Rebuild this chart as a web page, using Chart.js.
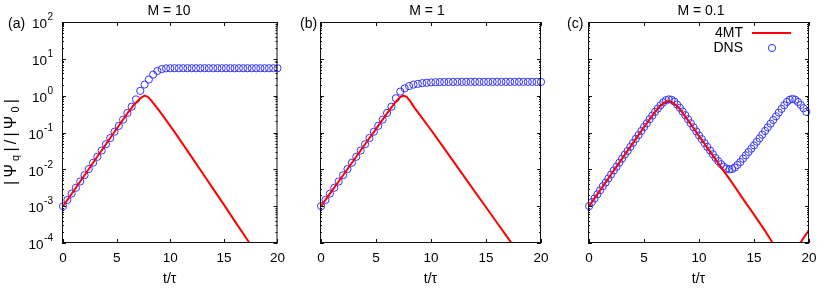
<!DOCTYPE html>
<html>
<head>
<meta charset="utf-8">
<script src="https://cdn.jsdelivr.net/npm/chart.js@4.4.1/dist/chart.umd.min.js"></script>
<style>
  html, body { margin: 0; padding: 0; background: #fff; }
  #wrap { position: relative; width: 830px; height: 292px; overflow: hidden; }
  canvas { position: absolute; top: 0; }
</style>
</head>
<body>
<div id="wrap">
  <canvas id="cA" width="292" height="292" style="left:0px"></canvas>
  <canvas id="cB" width="268" height="292" style="left:292px"></canvas>
  <canvas id="cC" width="270" height="292" style="left:560px"></canvas>
</div>
<script>
// ---------------- data ----------------
const panelTitles = ['M = 10', 'M = 1', 'M = 0.1'];
const panelTags = ['(a)', '(b)', '(c)'];
const xTicks = [0, 5, 10, 15, 20];
const yTicks = [1e-4, 1e-3, 1e-2, 1e-1, 1e0, 1e1, 1e2];
const yTickExps = ['-4', '-3', '-2', '-1', '0', '1', '2'];

// 4MT (red line) samples
const tRedA = [0,1,2,3,4,5,6,6.5,7,7.3,7.6,7.9,8.2,8.6,9,10,11,12,13,14,15,16,17,17.5];
const redA  = [1.00e-3,2.63e-3,6.92e-3,1.82e-2,4.79e-2,0.126,0.331,0.513,0.741,0.891,1.00,0.933,0.759,0.537,0.380,0.151,0.0575,0.0214,7.94e-3,2.95e-3,1.10e-3,3.98e-4,1.48e-4,8.9e-5];

const tRedB = [0,1,2,3,4,5,6,6.5,6.9,7.2,7.5,7.8,8.1,8.5,9,10,11,12,13,14,15,16,17,17.5];
const redB  = [1.00e-3,2.63e-3,6.92e-3,1.82e-2,4.79e-2,0.126,0.331,0.525,0.741,0.912,1.00,0.912,0.708,0.468,0.295,0.117,0.0447,0.0170,6.46e-3,2.45e-3,9.33e-4,3.55e-4,1.35e-4,8.3e-5];

const tRedC = [0,1,2,3,4,5,6,6.5,7,7.3,7.6,8,8.5,9,10,11,12,13,14,15,16,16.7,17.3,17.8,18.3,18.8,19.2,20];
const redC  = [1.00e-3,2.69e-3,7.24e-3,1.95e-2,5.25e-2,0.141,0.363,0.537,0.692,0.708,0.646,0.525,0.347,0.214,0.0794,0.0302,0.0115,4.37e-3,1.58e-3,5.89e-4,2.14e-4,1.0e-4,5.0e-5,2.0e-5,1.0e-5,2.8e-5,1.0e-4,2.24e-4];

// DNS (blue circles) samples
const tDnsAB = [0,0.4,0.8,1.2,1.6,2,2.4,2.8,3.2,3.6,4,4.4,4.8,5.2,5.6,6,6.4,6.8,7.2,7.6,8,8.4,8.8,9.2,9.6,10,10.4,10.8,11.2,11.6,12,12.4,12.8,13.2,13.6,14,14.4,14.8,15.2,15.6,16,16.4,16.8,17.2,17.6,18,18.4,18.8,19.2,19.6,20];
const dnsA = [1.00e-3,1.48e-3,2.19e-3,3.16e-3,4.68e-3,6.92e-3,1.02e-2,1.51e-2,2.19e-2,3.24e-2,4.79e-2,7.08e-2,0.105,0.151,0.224,0.339,0.501,0.794,1.35,2.00,2.75,3.72,4.68,5.25,5.50,
  5.55,5.56,5.56,5.57,5.56,5.56,5.55,5.56,5.56,5.56,5.55,5.56,5.56,5.56,5.56,5.55,5.56,5.56,5.56,5.55,5.56,5.56,5.55,5.56,5.56,5.55];
const dnsB = [1.00e-3,1.48e-3,2.19e-3,3.16e-3,4.68e-3,6.92e-3,1.02e-2,1.51e-2,2.19e-2,3.24e-2,4.79e-2,7.08e-2,0.105,0.151,0.224,0.339,0.501,
  0.851,1.29,1.58,1.82,2.00,2.09,2.19,2.24,2.29,
  2.32,2.34,2.35,2.36,2.36,2.37,2.37,2.37,2.37,2.37,2.37,2.37,2.37,2.37,2.37,2.37,2.37,2.37,2.37,2.37,2.37,2.37,2.37,2.37,2.37];

const tDnsC = [0,0.25,0.5,0.75,1,1.25,1.5,1.75,2,2.25,2.5,2.75,3,3.25,3.5,3.75,4,4.25,4.5,4.75,5,5.25,5.5,5.75,6,6.25,6.5,6.75,7,7.25,7.5,7.75,8,8.25,8.5,8.75,9,9.25,9.5,9.75,10,10.25,10.5,10.75,11,11.25,11.5,11.75,12,12.25,12.5,12.75,13,13.25,13.5,13.75,14,14.25,14.5,14.75,15,15.25,15.5,15.75,16,16.25,16.5,16.75,17,17.25,17.5,17.75,18,18.25,18.5,18.75,19,19.25,19.5,19.75];
const dnsC = [1.00e-3,1.29e-3,1.62e-3,2.09e-3,2.69e-3,3.47e-3,4.37e-3,5.62e-3,7.24e-3,9.33e-3,
  1.18e-2,1.51e-2,1.95e-2,2.51e-2,3.16e-2,4.07e-2,5.25e-2,6.76e-2,8.51e-2,0.110,
  0.141,0.178,0.229,0.288,0.363,0.447,0.550,0.661,0.759,0.794,
  0.776,0.692,0.575,0.468,0.372,0.295,0.229,0.178,0.138,0.107,
  8.32e-2,6.61e-2,5.13e-2,4.07e-2,3.24e-2,2.57e-2,2.04e-2,1.66e-2,1.38e-2,1.18e-2,
  1.05e-2,1.00e-2,1.02e-2,1.12e-2,1.32e-2,1.58e-2,1.95e-2,2.40e-2,2.95e-2,3.63e-2,
  4.47e-2,5.62e-2,6.92e-2,8.71e-2,0.110,0.138,0.174,0.219,0.275,0.347,
  0.437,0.550,0.676,0.776,0.813,0.776,0.676,0.562,0.457,0.363];

// ---------------- drawing ----------------
const FONT = "'Liberation Sans', Arial, Helvetica, sans-serif";
const RED = '#ff0000';
const BLUE = '#3434ff';

function pts(xs, ys) { return xs.map((x, i) => ({ x: x, y: ys[i] })); }

const gnu = {
  id: 'gnu',
  afterDraw(chart, args, o) {
    const ctx = chart.ctx;
    const { left, right, top, bottom } = chart.chartArea;
    const xs = chart.scales.x, ys = chart.scales.y;
    ctx.save();
    ctx.strokeStyle = '#111';
    ctx.lineWidth = 1;
    ctx.beginPath();
    xTicks.forEach(v => {
      const px = Math.round(xs.getPixelForValue(v)) + 0.5;
      ctx.moveTo(px, bottom); ctx.lineTo(px, bottom - 4);
      ctx.moveTo(px, top); ctx.lineTo(px, top + 4);
    });
    yTicks.forEach((v, i) => {
      const py = Math.round(ys.getPixelForValue(v)) + 0.5;
      ctx.moveTo(left, py); ctx.lineTo(left + 4, py);
      ctx.moveTo(right, py); ctx.lineTo(right - 4, py);
      if (i < yTicks.length - 1) {
        for (let m = 2; m < 10; m++) {
          const q = Math.round(ys.getPixelForValue(v * m)) + 0.5;
          ctx.moveTo(left, q); ctx.lineTo(left + 2, q);
          ctx.moveTo(right, q); ctx.lineTo(right - 2, q);
        }
      }
    });
    ctx.stroke();
    ctx.strokeRect(left + 0.5, top + 0.5, right - left - 1, bottom - top - 1);

    ctx.fillStyle = '#000';
    ctx.textBaseline = 'middle';
    ctx.font = '14px ' + FONT;
    ctx.textAlign = 'center';
    ctx.fillText(o.title, o.titleX, 11);
    ctx.textAlign = 'left';
    ctx.fillText(o.tag, o.tagX, 24);

    if (o.yLabels) {
      yTicks.forEach((v, i) => {
        const py = ys.getPixelForValue(v);
        ctx.textAlign = 'right';
        ctx.font = '10px ' + FONT;
        const ew = ctx.measureText(yTickExps[i]).width;
        ctx.fillText(yTickExps[i], 53, py - 4.5);
        ctx.font = '13.5px ' + FONT;
        ctx.fillText('10', 53 - ew - 0.5, py + 2.5);
      });
      // y title |Ψq|/|Ψ0|
      const pieces = [['|',0],['Ψ',0],['q',1],['|',0],['/',0],['|',0],['Ψ',0],['0',1],['|',0]];
      const target = 86;
      let nat = 0;
      const fnt = p => (p[1] ? '11px ' : '16px ') + FONT;
      const widths = pieces.map(p => { ctx.font = fnt(p); const w = ctx.measureText(p[0]).width; nat += w; return w; });
      const gap = Math.max(0, (target - nat) / (pieces.length - 1));
      ctx.save();
      ctx.translate(12, 142);
      ctx.rotate(-Math.PI / 2);
      ctx.textAlign = 'left';
      ctx.textBaseline = 'middle';
      let x = -target / 2;
      pieces.forEach((p, i) => {
        ctx.font = fnt(p);
        ctx.fillText(p[0], x, p[1] ? 4 : 0);
        x += widths[i] + gap;
      });
      ctx.restore();
    }

    if (o.legend) {
      const L = o.legend;
      ctx.font = '14px ' + FONT;
      ctx.textAlign = 'right';
      ctx.textBaseline = 'middle';
      const ds = chart.data.datasets;
      ctx.fillText(ds[0].label, L.textRight, L.y1);
      ctx.fillText(ds[1].label, L.textRight, L.y2);
      ctx.strokeStyle = ds[0].borderColor;
      ctx.lineWidth = 2;
      ctx.beginPath();
      ctx.moveTo(L.lineX1, L.y1); ctx.lineTo(L.lineX2, L.y1);
      ctx.stroke();
      ctx.strokeStyle = ds[1].borderColor;
      ctx.lineWidth = 1;
      ctx.beginPath();
      ctx.arc(L.circX, L.y2, 3.6, 0, Math.PI * 2);
      ctx.stroke();
    }
    ctx.restore();
  }
};

function makeChart(id, tRed, red, tDns, dns, cfg) {
  return new Chart(document.getElementById(id), {
    type: 'scatter',
    data: {
      datasets: [
        { label: '4MT', data: pts(tRed, red), showLine: true, borderColor: RED, backgroundColor: RED,
          borderWidth: 2, pointRadius: 0, pointHoverRadius: 0, tension: 0, clip: 0 },
        { label: 'DNS', data: pts(tDns, dns), showLine: false, borderColor: BLUE, backgroundColor: 'rgba(0,0,0,0)',
          borderWidth: 1, pointRadius: 3.6, pointHoverRadius: 3.6, pointStyle: 'circle', clip: false }
      ]
    },
    options: {
      responsive: false, animation: false, events: [],
      layout: { padding: { top: 22, right: cfg.padR, left: 0, bottom: 0 } },
      plugins: { legend: { display: false }, tooltip: { enabled: false }, title: { display: false }, gnu: cfg },
      scales: {
        x: {
          type: 'linear', min: -0.1, max: 20,
          afterBuildTicks: s => { s.ticks = xTicks.map(v => ({ value: v })); },
          afterFit: s => { s.height = 49; },
          grid: { display: false, drawTicks: false }, border: { display: false },
          ticks: { color: '#000', font: { family: FONT, size: 13.5 }, padding: 7, maxRotation: 0, autoSkip: false },
          title: { display: true, text: 't/τ', color: '#000', font: { family: FONT, size: 14 }, padding: { top: 0, bottom: 4 } }
        },
        y: {
          type: 'logarithmic', min: 1e-4, max: 1e2,
          afterFit: s => { s.width = cfg.yW; },
          grid: { display: false, drawTicks: false }, border: { display: false },
          ticks: { display: false }
        }
      }
    },
    plugins: [gnu]
  });
}

makeChart('cA', tRedA, redA, tDnsAB, dnsA, { yW: 62, padR: 9, title: panelTitles[0], titleX: 169, tag: panelTags[0], tagX: 8, yLabels: true });
makeChart('cB', tRedB, redB, tDnsAB, dnsB, { yW: 28, padR: 19, title: panelTitles[1], titleX: 135, tag: panelTags[1], tagX: 8, yLabels: false });
makeChart('cC', tRedC, redC, tDnsC, dnsC, { yW: 28, padR: 21, title: panelTitles[2], titleX: 141, tag: panelTags[2], tagX: 7, yLabels: false,
  legend: { textRight: 183, y1: 33, y2: 48, lineX1: 192, lineX2: 231, circX: 212 } });
</script>
</body>
</html>
